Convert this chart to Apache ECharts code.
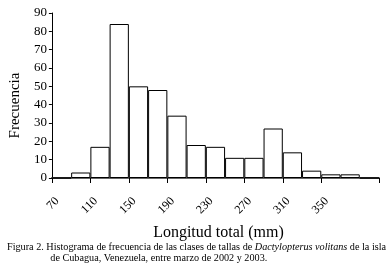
<!DOCTYPE html>
<html>
<head>
<meta charset="utf-8">
<script src="https://cdn.jsdelivr.net/npm/echarts@6/dist/echarts.min.js"></script>
<style>
  html, body { margin: 0; padding: 0; background: #fff; }
  #chart { width: 389px; height: 267px; }
</style>
</head>
<body>
<div id="chart"></div>
<script>
// clases de talla (mm), one per bar
const categories = ['70', '90', '110', '130', '150', '170', '190', '210', '230',
  '250', '270', '290', '310', '330', '350', '370', '390']
// frecuencia per class
const frecuencia = [0, 3, 17, 84, 50, 48, 34, 18, 17, 11, 11, 27, 14, 4, 2, 2, 0]
// labels shown under the axis
const tickLabels = ['70', '110', '150', '190', '230', '270', '310', '350']

const serif = '"Liberation Serif", "DejaVu Serif", serif'

const chart = echarts.init(document.getElementById('chart'), null, { renderer: 'canvas' })

const option = {
  animation: false,
  backgroundColor: '#fff',
  title: {
    text: '{n|Figura 2. Histograma de frecuencia de las clases de tallas de }{i|Dactylopterus volitans}{n| de la isla}\n{n|                 de Cubagua, Venezuela, entre marzo de 2002 y 2003.}',
    left: 2,
    top: 237,
    textStyle: {
      fontWeight: 'normal',
      rich: {
        n: { fontFamily: serif, fontSize: 10.2, fontWeight: 'normal', color: '#000', lineHeight: 11 },
        i: { fontFamily: serif, fontSize: 10.2, fontWeight: 'normal', fontStyle: 'italic', color: '#000', lineHeight: 11 }
      }
    }
  },
  grid: {
    left: 43,
    right: 10,
    top: 13,
    bottom: 89,
    containLabel: false
  },
  xAxis: {
    type: 'category',
    data: categories,
    name: 'Longitud total (mm)',
    nameLocation: 'middle',
    nameGap: 47,
    nameTextStyle: {
      fontFamily: serif,
      fontSize: 16,
      color: '#000',
      padding: [0, 0, 0, 6]
    },
    axisLine: { lineStyle: { color: '#666', width: 2 } },
    axisTick: { show: true, length: 5, lineStyle: { color: '#000', width: 1 } },
    axisLabel: {
      rotate: 45,
      fontFamily: serif,
      fontSize: 12,
      color: '#000',
      margin: 17,
      padding: [0, 6, 0, 0],
      interval: (i, v) => tickLabels.includes(v)
    }
  },
  yAxis: {
    type: 'value',
    min: 0,
    max: 90,
    interval: 10,
    name: 'Frecuencia',
    nameLocation: 'middle',
    nameGap: 27,
    nameRotate: 90,
    nameTextStyle: {
      fontFamily: serif,
      fontSize: 15,
      color: '#000',
      padding: [0, 20, 0, 0]
    },
    splitLine: { show: false },
    axisLine: { show: true, lineStyle: { color: '#000', width: 1 } },
    axisTick: { show: true, length: 3, lineStyle: { color: '#000' } },
    axisLabel: {
      fontFamily: serif,
      fontSize: 13,
      color: '#000',
      margin: 5
    }
  },
  series: [
    {
      type: 'bar',
      data: frecuencia,
      barCategoryGap: 0,
      itemStyle: {
        color: '#fff',
        borderColor: '#000',
        borderWidth: 1
      },
      emphasis: { disabled: true }
    }
  ]
}

chart.setOption(option)
</script>
</body>
</html>
